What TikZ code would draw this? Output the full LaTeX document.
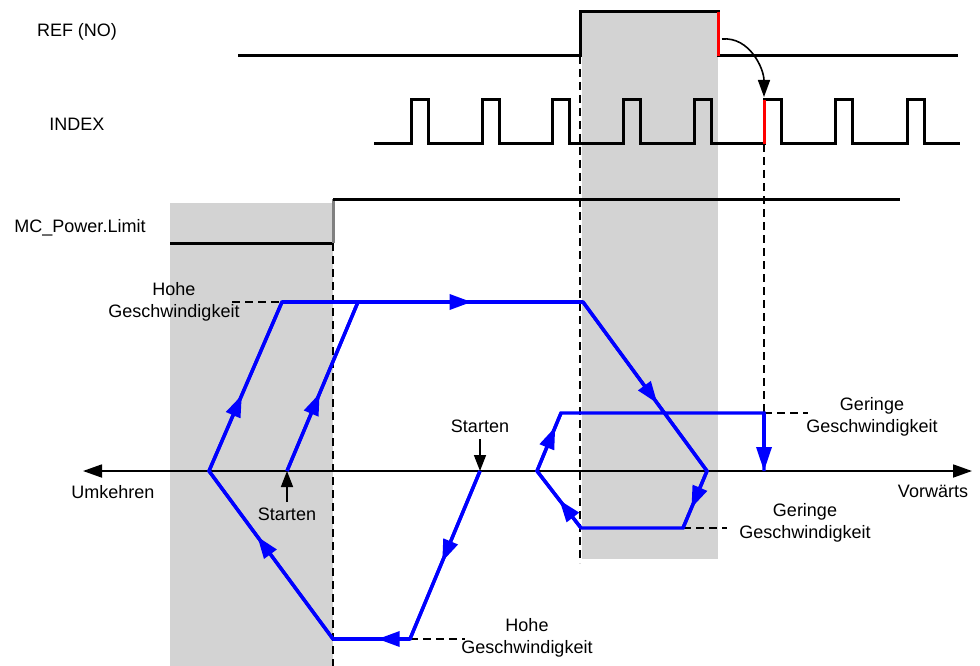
\documentclass[tikz,border=0pt]{standalone}
\usepackage{fontspec}
\setmainfont{Liberation Sans}
\usetikzlibrary{arrows.meta,decorations.markings}
\definecolor{boxgray}{RGB}{211,211,211}
\tikzset{
  sig/.style={line width=3pt, line join=miter},
  motion/.style={blue, line width=3.4pt, line join=miter},
  guide/.style={line width=1.5pt, dash pattern=on 8pt off 5pt},
  lbl/.style={font=\fontsize{18}{22}\selectfont, align=center, inner sep=0pt},
  ptr/.style={line width=1.6pt, -{Triangle[length=16pt,width=12pt]}},
  midtip/.style={postaction={decorate,decoration={markings,mark=at position #1 with {\arrow{Triangle[length=22pt,width=15pt]}}}}}
}
\begin{document}
\begin{tikzpicture}[x=1pt,y=-1pt]
	\useasboundingbox (0,0) rectangle (980,666);
	\fill[boxgray] (170,203) rectangle (333,666);
	\fill[boxgray] (582,12) rectangle (718,559);
	% signal names
	\node[lbl] (refLbl) at (77,32) {REF (NO)};
	\node[lbl] (idxLbl) at (77,124) {INDEX};
	\node[lbl] (pwrLbl) at (80,228) {MC\_Power.Limit};
	% timing signals
	\draw[sig] (238,56) -- (580,56) -- (580,12) -- (718,12) -- (718,56) -- (958,56);
	\draw[sig, red] (718,12) -- (718,56);
	\draw[sig] (374,144) foreach \r in {411,482,552,623,694,764,835,907} { -- (\r,144) -- (\r,100) -- ({\r+17},100) -- ({\r+17},144) } -- (960,144);
	\draw[sig, red] (764,144) -- (764,100);
	\draw[sig] (170,243) -- (333,243);
	\draw[sig, gray] (333,243) -- (333,199);
	\draw[sig] (333,199) -- (900,199);
	\coordinate (refFall) at (722,39);
	\coordinate (idxRise) at (764,97);
	\draw[line width=1.6pt, -{Triangle[length=17pt,width=12pt]}] (refFall) to[out=5,in=90] (idxRise);
	% guide lines
	\draw[guide] (333,243) -- (333,666);
	\draw[guide] (580,56) -- (580,563);
	\draw[guide] (764,144) -- (764,413);
	% axis
	\coordinate (axL) at (83,471);
	\coordinate (axR) at (972,471);
	\draw[line width=1.8pt, {Triangle[length=19pt,width=13pt]}-{Triangle[length=19pt,width=13pt]}] (axL) -- (axR);
	\node[lbl] (rev) at (113,492) {Umkehren};
	\node[lbl] (fwd) at (933,491) {Vorwärts};
	% motion profile points
	\coordinate (s1) at (287,471);
	\coordinate (h0) at (282,302);
	\coordinate (h1) at (358,302);
	\coordinate (h2) at (583,302);
	\coordinate (r1) at (707,471);
	\coordinate (r2) at (683,528);
	\coordinate (r3) at (581,528);
	\coordinate (r4) at (537,471);
	\coordinate (r5) at (561,413);
	\coordinate (r6) at (764,413);
	\coordinate (r7) at (764,471);
	\coordinate (s2) at (480,471);
	\coordinate (b1) at (410,639);
	\coordinate (b2) at (333,639);
	\coordinate (k1) at (209,471);
	\draw[guide] (232,302) -- (h0);
	\draw[guide] (b1) -- (465,639);
	\draw[guide] (r2) -- (727,528);
	\draw[guide] (r6) -- (808,413);
	\draw[motion] (s1) -- (h1) -- (h2) -- (r1) -- (r2) -- (r3) -- (r4) -- (r5) -- (r6) -- (r7);
	\draw[motion] (s2) -- (b1) -- (b2) -- (k1) -- (h0) -- (h1);
	\draw[motion, -{Triangle[length=24pt,width=15pt]}] (r6) -- (r7);
	\draw[motion, midtip=0.46] (s1) -- (h1);
	\draw[motion, midtip=0.63] (h0) -- (h2);
	\draw[motion, midtip=0.60] (h2) -- (r1);
	\draw[motion, midtip=0.65] (r1) -- (r2);
	\draw[motion, midtip=0.49] (r3) -- (r4);
	\draw[motion, midtip=0.76] (r4) -- (r5);
	\draw[motion, midtip=0.54] (s2) -- (b1);
	\draw[motion, midtip=0.42] (b1) -- (b2);
	\draw[motion, midtip=0.61] (b2) -- (k1);
	\draw[motion, midtip=0.45] (k1) -- (h0);
	% start markers
	\node[lbl] (start1) at (287,514) {Starten};
	\node[lbl] (start2) at (480,426) {Starten};
	\draw[ptr] (287,502) -- (s1);
	\draw[ptr] (480,439) -- (s2);
	% speed labels
	\node[lbl] (fastTop) at (174,302) {Hohe\\Geschwindigkeit};
	\node[lbl] (fastBot) at (527,638) {Hohe\\Geschwindigkeit};
	\node[lbl] (slowTop) at (872,417) {Geringe\\Geschwindigkeit};
	\node[lbl] (slowBot) at (805,523) {Geringe\\Geschwindigkeit};
\end{tikzpicture}
\end{document}
